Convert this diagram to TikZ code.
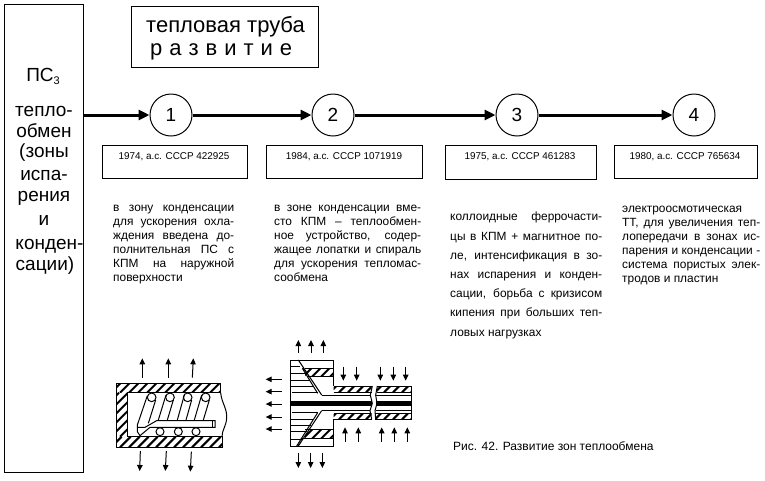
\documentclass[tikz,border=0pt]{standalone}
\usepackage{fontspec}
\setmainfont{Liberation Sans}
\usetikzlibrary{arrows.meta}
\newcommand\jl[2]{\hbox to #1pt{\spaceskip=.2em plus 1fil\relax #2}}
\newcommand\lft[1]{\hbox{#1}}
\newcommand\hatchbox[4]{\begin{scope}\clip (#1,#2) rectangle (#3,#4);
\foreach \k in {-180,-153,...,540}{\draw[hatchline] (\k,#4) -- ++({#4-#2},{#2-#4});}
\end{scope}}
\tikzset{
 box/.style={draw=black,line width=1pt,fill=white,inner sep=0,rectangle},
 numc/.style={draw=black,line width=1pt,fill=white,circle,minimum size=42pt,inner sep=0,font=\fontsize{19}{19}\selectfont},
 flow/.style={line width=3pt,-{Triangle[length=11pt,width=10pt]}},
 ltxt/.style={anchor=base,inner sep=0,font=\fontsize{19}{20}\selectfont},
 ttl/.style={anchor=base west,inner sep=0,font=\fontsize{22}{24}\selectfont},
 pat/.style={anchor=base,inner sep=0,font=\fontsize{9.9}{11}\selectfont},
 para/.style={anchor=north west,inner sep=0,font=\fontsize{11.9}{14}\selectfont},
 figcap/.style={anchor=base west,inner sep=0,font=\fontsize{12}{12}\selectfont},
 hatchline/.style={line width=2pt},
 thin line/.style={line width=1pt},
 core/.style={line width=5pt},
 ar/.style={line width=1pt,-{Triangle[length=6pt,width=5.5pt]}},
 zoomed/.style={x=0.33333pt,y=-0.33333pt}
}
\begin{document}
\begin{tikzpicture}[x=1pt,y=-1pt]
\useasboundingbox[fill=white] (0,0) rectangle (765,480);
\node[box,minimum width=79pt,minimum height=468pt] (left) at (43.5,238) {};
\node[box,minimum width=187pt,minimum height=61pt] (title) at (224.5,36.5) {};
\node[ttl] (t1) at (146,32) {тепловая труба};
\node[ttl] (t2) at (150,55) {\jl{142}{р а з в и т и е}};
\node[ltxt] (l0) at (43,81) {ПС\raisebox{-3pt}{\fontsize{11}{11}\selectfont 3}};
\node[ltxt] (l1) at (44,116) {тепло-};
\node[ltxt] (l2) at (44,137) {обмен};
\node[ltxt] (l3) at (44,157) {(зоны};
\node[ltxt] (l4) at (44,180) {испа-};
\node[ltxt] (l5) at (44,201) {рения};
\node[ltxt] (l6) at (44,225) {и};
\node[ltxt] (l7) at (49.5,249) {конден-};
\node[ltxt] (l8) at (45,270) {сации)};
\node[numc] (c1) at (171,115) {1};
\node[numc] (c2) at (333,115) {2};
\node[numc] (c3) at (517,115) {3};
\node[numc] (c4) at (694,115) {4};
\coordinate (start) at (83,115);
\draw[flow] (start) -- (c1);
\draw[flow] (c1) -- (c2);
\draw[flow] (c2) -- (c3);
\draw[flow] (c3) -- (c4);
\node[box,minimum width=145pt,minimum height=33pt] (b1) at (174.5,161.5) {};
\node[box,minimum width=156pt,minimum height=33pt] (b2) at (344,161.5) {};
\node[box,minimum width=151pt,minimum height=34pt] (b3) at (520.5,162) {};
\node[box,minimum width=143pt,minimum height=33pt] (b4) at (685.5,161.5) {};
\node[pat] (n1) at (174,159) {1974, а.с. СССР 422925};
\node[pat] (n2) at (344,159) {1984, а.с. СССР 1071919};
\node[pat] (n3) at (520,159) {1975, а.с. СССР 461283};
\node[pat] (n4) at (685,159) {1980, а.с. СССР 765634};
\node[para] (p1) at (113,205) {\vbox{\baselineskip=14pt
\jl{121}{в зону конденсации}\jl{121}{для ускорения охла-}\jl{121}{ждения введена до-}\jl{121}{полнительная ПС с}\jl{121}{КПМ на наружной}\lft{поверхности}}};
\node[para] (p2) at (274,205) {\vbox{\baselineskip=14pt
\jl{147}{в зоне конденсации вме-}\jl{147}{сто КПМ -- теплообмен-}\jl{147}{ное устройство, содер-}\jl{147}{жащее лопатки и спираль}\jl{147}{для ускорения тепломас-}\lft{сообмена}}};
\node[para] (p3) at (450,212) {\vbox{\baselineskip=19.2pt
\jl{152}{коллоидные феррочасти-}\jl{152}{цы в КПМ + магнитное по-}\jl{152}{ле, интенсификация в зо-}\jl{152}{нах испарения и конден-}\jl{152}{сации, борьба с кризисом}\jl{152}{кипения при больших теп-}\lft{ловых нагрузках}}};
\node[para] (p4) at (622,206) {\vbox{\baselineskip=14pt
\lft{электроосмотическая}\jl{138}{ТТ, для увеличения теп-}\jl{138}{лопередачи в зонах ис-}\jl{138}{парения и конденсации -}\jl{138}{система пористых элек-}\lft{тродов и пластин}}};
\node[figcap] (cp) at (453,450) {Рис. 42. Развитие зон теплообмена};
% drawing 1
\begin{scope}[shift={(90,340)},zoomed]
\hatchbox{80}{130}{392}{158}
\hatchbox{80}{158}{112}{290}
\hatchbox{80}{290}{396}{322}
\draw[thin line] (392,158) -- (392,130) -- (80,130) -- (80,322) -- (396,322) -- (396,290) -- (112,290) -- (112,158) -- (392,158);
\draw[thin line] (392,158) .. controls (395,190) and (412,205) .. (410,235) .. controls (408,260) and (396,270) .. (396,290);
\foreach \x in {185,240,293,347}{\draw[thin line] (\x,172) circle [x radius=13,y radius=13];}
\foreach \x in {210,265,318}{\draw[thin line] (\x,275) circle [x radius=12,y radius=12];}
\draw[thin line] (172,167) -- (142,255) -- (142,275) -- (150,287) -- (180,262) -- (375,262) -- (375,242) -- (200,242) -- (165,262) -- (142,262);
\draw[thin line] (367,242) -- (367,262);
\draw[thin line] (197,180) -- (175,250);
\draw[thin line] (228,165) -- (205,240) (250,180) -- (232,240);
\draw[thin line] (283,165) -- (262,240) (305,180) -- (288,240);
\draw[thin line] (335,165) -- (313,240) (358,180) -- (340,240);
\draw[ar] (157,113) -- (157,55);
\draw[ar] (235,113) -- (235,55);
\draw[ar] (307,113) -- (310,55);
\draw[ar] (151,333) -- (149,393);
\draw[ar] (229,333) -- (226,393);
\draw[ar] (304,335) -- (301,395);
\end{scope}
% drawing 2
\begin{scope}[shift={(255,340)},zoomed]
\hatchbox{150}{85}{236}{110}
\hatchbox{150}{268}{236}{296}
\hatchbox{236}{138}{350}{157}
\hatchbox{365}{138}{470}{157}
\hatchbox{236}{220}{350}{238}
\hatchbox{362}{220}{470}{238}
\draw[thin line] (236,138) -- (236,60) -- (106,60) -- (106,320) -- (236,320) -- (236,238);
\draw[thin line] (150,85) -- (236,85) (160,110) -- (236,110) (150,268) -- (236,268) (140,296) -- (236,296);
\draw[thin line] (236,138) -- (352,138) (236,157) -- (350,157) (236,220) -- (345,220) (236,238) -- (350,238);
\draw[thin line] (367,138) -- (470,138) -- (470,238) -- (362,238) -- (362,220) -- (470,220) (365,157) -- (470,157);
\draw[thin line] (200,165) -- (345,165) (200,212) -- (345,212) (362,165) -- (470,165) (362,212) -- (470,212);
\draw[core] (106,190) -- (350,190);
\draw[core] (362,190) -- (470,190);
\draw[thin line] (130,60) -- (200,165) (142,85) -- (188,160);
\draw[thin line] (200,212) -- (130,318) (188,218) -- (125,318);
\draw[thin line] (106,78) -- (135,78) (106,100) -- (152,100) (106,120) -- (165,120) (106,140) -- (175,140) (110,158) -- (190,158);
\draw[thin line] (110,218) -- (190,218) (106,238) -- (175,238) (106,255) -- (168,255) (106,275) -- (155,275) (106,298) -- (140,298);
\draw[thin line] (352,138) -- (346,165) -- (352,190) -- (345,212) -- (350,238);
\draw[thin line] (367,138) -- (362,165) -- (366,190) -- (360,212) -- (362,238);
\draw[ar] (130,38) -- (130,0);
\draw[ar] (168,38) -- (168,0);
\draw[ar] (205,38) -- (205,0);
\foreach \y in {118,155,192,231,267}{\draw[ar] (80,\y) -- (32,\y);}
\foreach \x in {265,305,376,415,452}{\draw[ar] (\x,80) -- (\x,122);}
\foreach \x in {270,310,380,418,457}{\draw[ar] (\x,305) -- (\x,262);}
\foreach \x in {130,167,202}{\draw[ar] (\x,340) -- (\x,384);}
\end{scope}
\end{tikzpicture}
\end{document}
